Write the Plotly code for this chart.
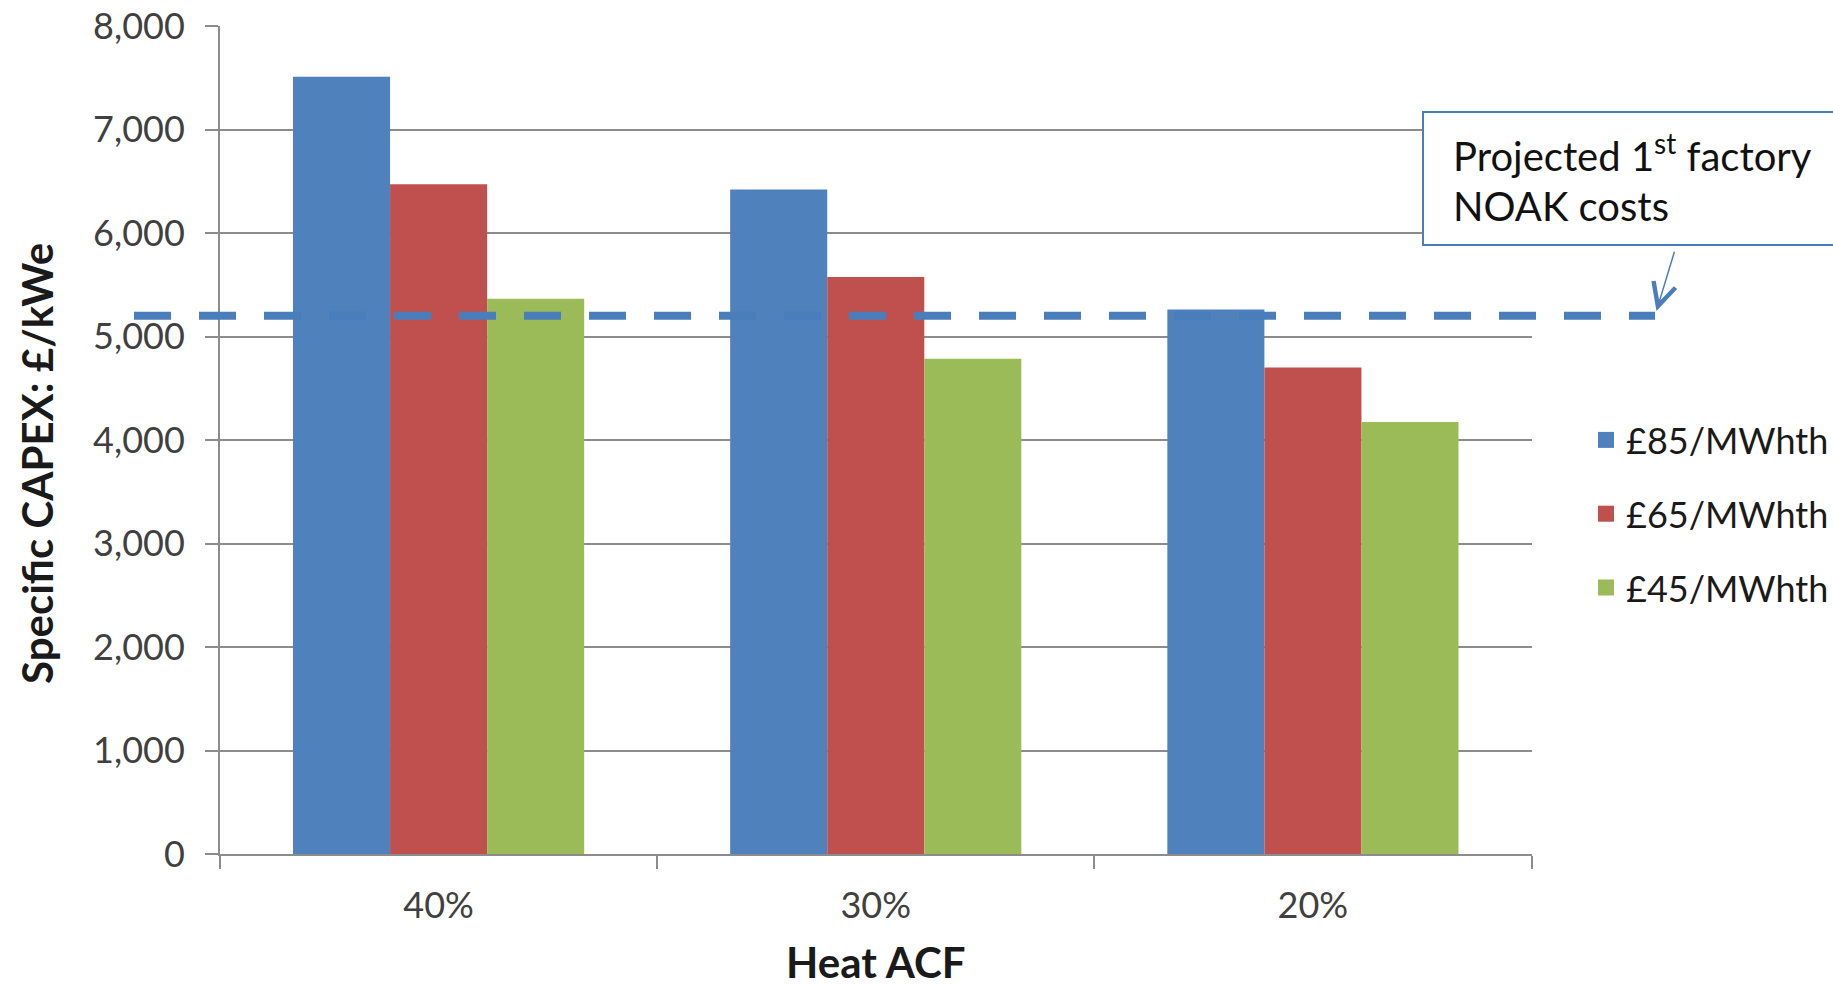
import plotly.graph_objects as go

# ---------------- data ----------------
categories = ["40%", "30%", "20%"]
series_names = ["£85/MWhth", "£65/MWhth", "£45/MWhth"]
capex_85 = [7510, 6420, 5260]
capex_65 = [6470, 5575, 4700]
capex_45 = [5365, 4785, 4175]
noak_cost = 5200
noak_span = [0, 1]
y_ticks = [0, 1000, 2000, 3000, 4000, 5000, 6000, 7000, 8000]
series_colors = ["#4F81BD", "#C0504D", "#9BBB59"]

# ---------------- layout helpers ----------------
W, H = 1833, 987
ML, MR, MT, MB = 100, 133, 26, 133
PW, PH = W - ML - MR, H - MT - MB


def px(x):
    return (x - ML) / PW


def py(y):
    return 1 - (y - MT) / PH


FONT = "Lato"
GRID = "#8c8c8c"
LINE_BLUE = "#4A7EBB"

fig = go.Figure()

for name, vals, col in zip(series_names, [capex_85, capex_65, capex_45], series_colors):
    fig.add_trace(go.Bar(x=categories, y=vals, name=name, marker=dict(color=col, line=dict(width=0)),
                         showlegend=False, xaxis="x", yaxis="y"))

# legend proxies
for name, col in zip(series_names, series_colors):
    fig.add_trace(go.Scatter(x=[None], y=[None], mode="markers", name=name, legendgroup=name,
                             marker=dict(symbol="square", size=20, color=col), xaxis="x", yaxis="y"))

# NOAK dashed line in a wider overlay subplot
fig.add_trace(go.Scatter(x=noak_span, y=[noak_cost] * len(noak_span), mode="lines", showlegend=False,
                         line=dict(color=LINE_BLUE, width=8, dash="37px,28px"),
                         xaxis="x2", yaxis="y2", hoverinfo="skip"))

fig.update_layout(
    width=W, height=H,
    margin=dict(l=ML, r=MR, t=MT, b=MB, autoexpand=False),
    paper_bgcolor="white", plot_bgcolor="rgba(0,0,0,0)",
    font=dict(family=FONT, size=36, color="#404040"),
    barmode="group", bargap=0.334, bargroupgap=0,
    xaxis=dict(
        domain=[px(220), px(1531.5)], anchor="y",
        showline=True, linecolor=GRID, linewidth=2,
        ticks="outside", tickson="boundaries", ticklen=13, tickwidth=2, tickcolor=GRID,
        showgrid=False, tickfont=dict(size=36, color="#404040"),
        ticklabelstandoff=19,
        title=dict(text="<b>Heat ACF</b>", font=dict(size=42, color="#1a1a1a"), standoff=35),
        automargin=False,
    ),
    yaxis=dict(
        domain=[0, 1], anchor="x", range=[0, 8000], tickvals=y_ticks, tickformat=",",
        showline=True, linecolor=GRID, linewidth=2,
        ticks="outside", ticklen=13, tickwidth=2, tickcolor=GRID,
        showgrid=True, gridcolor=GRID, gridwidth=2, zeroline=False,
        tickfont=dict(size=36, color="#404040"), ticklabelstandoff=13,
        automargin=False,
    ),
    xaxis2=dict(domain=[px(134), px(1655)], anchor="y2", range=[0, 1], visible=False, fixedrange=True),
    yaxis2=dict(domain=[0, 1], anchor="x2", range=[0, 8000], visible=False, fixedrange=True),
    legend=dict(
        x=px(1586), xanchor="left", y=py(514), yanchor="middle",
        font=dict(size=36, color="#1a1a1a"), tracegroupgap=24,
        bgcolor="rgba(0,0,0,0)", traceorder="grouped",
    ),
    showlegend=True,
)

# y-axis title (placed as rotated annotation, offset like the original)
fig.add_annotation(xref="paper", yref="paper", x=px(37), y=py(464), xanchor="center", yanchor="middle",
                   text="<b>Specific CAPEX: £/kWe</b>", textangle=-90, showarrow=False,
                   font=dict(family=FONT, size=42, color="#1a1a1a"))

# callout box
fig.add_shape(type="rect", xref="paper", yref="paper",
              x0=px(1423), x1=px(1880), y0=py(112), y1=py(245),
              line=dict(color=LINE_BLUE, width=2), fillcolor="white", layer="above")
fig.add_annotation(xref="paper", yref="paper", x=px(1451), y=py(153), xanchor="left", yanchor="middle",
                   text="Projected 1<sup>st</sup> factory", showarrow=False,
                   font=dict(family=FONT, size=40, color="#111111"))
fig.add_annotation(xref="paper", yref="paper", x=px(1451), y=py(206), xanchor="left", yanchor="middle",
                   text="NOAK costs", showarrow=False,
                   font=dict(family=FONT, size=40, color="#111111"))
# arrow
fig.add_annotation(xref="x2", yref="y2", x=noak_span[-1], y=noak_cost, ax=20, ay=-66,
                   text=" ", font=dict(size=1), showarrow=True, arrowhead=5, arrowsize=3,
                   arrowwidth=1.5, arrowcolor=LINE_BLUE, standoff=5)

fig.write_html("out.html")
